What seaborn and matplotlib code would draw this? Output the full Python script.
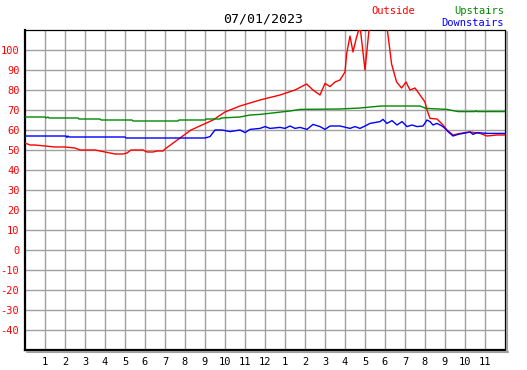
import numpy as np
import pandas as pd
import matplotlib
matplotlib.use("Agg")
import matplotlib.pyplot as plt
import seaborn as sns
from matplotlib.lines import Line2D

# ------------------------------------------------------------
# data (hour of day, temperature)
# ------------------------------------------------------------
DATE_LABEL = "07/01/2023"

outside_hours = [0, 0.25, 0.5, 1, 1.5, 2, 2.5, 2.75, 3, 3.5, 4, 4.25, 4.5, 4.9,
                 5.1, 5.3, 5.9, 6.1, 6.4, 6.6, 6.9, 7.0, 7.75, 8.3, 9.4, 10.0,
                 10.75, 11.75, 12.75, 13.5, 14.08, 14.4, 14.75, 15.0, 15.25,
                 15.5, 15.75, 16.0, 16.08, 16.25, 16.4, 16.58, 16.75, 17.0,
                 17.25, 17.75, 18.08, 18.33, 18.58, 18.83, 19.05, 19.25, 19.5,
                 19.75, 20.0, 20.1, 20.25, 20.6, 20.9, 21.1, 21.4, 21.75,
                 22.25, 22.75, 23.1, 23.6, 24.0]
outside_temps = [53.5, 52.5, 52.5, 52, 51.5, 51.5, 51, 50, 50, 50, 49, 48.5, 48,
                 48, 48.5, 50, 50, 49, 49, 49.5, 49.5, 50.5, 56, 60, 65, 69,
                 72, 75, 77.5, 80, 83, 80, 77.5, 83.3, 81.7,
                 84, 85, 89, 98, 107, 99, 106.5, 112, 90,
                 115, 118, 113, 93, 84, 81, 84, 80, 81,
                 77.5, 74, 70, 65.8, 65.5, 62.5, 60, 57.5, 58.3,
                 59, 58.3, 57, 57.5, 57.5]

upstairs_hours = [0, 1.0, 1.05, 1.15, 1.2, 2.65, 2.7, 3.75, 3.8, 5.35, 5.4,
                  7.65, 7.7, 9.0, 9.05, 9.75, 9.8, 10.75, 11.25, 11.75, 13.25,
                  13.75, 15.75, 16.75, 17.8, 19.75, 20.05, 21.1, 21.65, 22.5,
                  22.55, 22.6, 24.0]
upstairs_temps = [66.5, 66.5, 66, 66.5, 66, 66, 65.5, 65.5, 65, 65, 64.5,
                  64.5, 65, 65, 65.5, 65.5, 66, 66.5, 67.5, 67.8, 69.5,
                  70.3, 70.5, 71, 72, 72, 70.8, 70.3, 69.2, 69.2,
                  69.6, 69.2, 69.2]

downstairs_hours = [0, 2.05, 2.1, 2.15, 2.2, 5.0, 5.05, 9.0, 9.25, 9.5, 9.85,
                    10.25, 10.75, 11.0, 11.25, 11.75, 12.0, 12.25, 12.75, 13.0,
                    13.25, 13.5, 13.75, 14.1, 14.4, 14.75, 15.0, 15.25, 15.75,
                    16.25, 16.5, 16.75, 17.0, 17.25, 17.75, 17.9, 18.1, 18.35,
                    18.6, 18.85, 19.1, 19.35, 19.6, 19.9, 20.1, 20.25, 20.4,
                    20.6, 20.85, 21.0, 21.15, 21.4, 21.65, 21.9, 22.25, 22.4,
                    22.6, 23.1, 24.0]
downstairs_temps = [57, 57, 56.3, 57, 56.5, 56.5, 56, 56, 56.7, 60, 60,
                    59.2, 60, 58.7, 60.3, 60.8, 61.7, 60.8, 61.3, 60.8,
                    62, 60.8, 61.3, 60.3, 62.8, 61.7, 60.3, 62, 62,
                    60.8, 61.7, 60.8, 62, 63.3, 64.2, 65.3, 63.3, 64.7,
                    62.5, 64.2, 61.7, 62.5, 61.7, 62, 65, 64.2, 62.5,
                    63.3, 62, 60.8, 59.2, 57, 57.8, 58.3, 59, 57.8,
                    58.7, 58.3, 58.3]

hour_ticks = list(range(1, 24))
hour_labels = [str(h % 12 if h % 12 else 12) for h in hour_ticks]
temp_ticks = list(range(-40, 101, 10))

SERIES = [
    ("Outside", outside_hours, outside_temps, "#ff0000"),
    ("Upstairs", upstairs_hours, upstairs_temps, "#008800"),
    ("Downstairs", downstairs_hours, downstairs_temps, "#0000ff"),
]

# ------------------------------------------------------------
# figure
# ------------------------------------------------------------
sns.set_style("white")
plt.rcParams["font.family"] = ["DejaVu Sans Mono", "DejaVu Sans"]
plt.rcParams["font.size"] = 7.5
plt.rcParams["axes.unicode_minus"] = False

W, H = 527, 370
fig = plt.figure(figsize=(W / 100, H / 100), dpi=100)
ax = fig.add_axes([25 / W, 20 / H, 480 / W, 320 / H])

for name, hrs, temps, color in SERIES:
    df = pd.DataFrame({"hour": hrs, "temp": temps})
    sns.lineplot(data=df, x="hour", y="temp", color=color, lw=1.0,
                 ax=ax, estimator=None, sort=False, zorder=3)

ax.set_xlim(0, 24)
ax.set_ylim(-50, 110)
ax.set_xticks(hour_ticks)
ax.set_xticklabels(hour_labels)
ax.set_yticks(temp_ticks)
ax.set_xlabel("")
ax.set_ylabel("")
ax.grid(True, color="#a0a0a0", lw=1.0)
ax.set_axisbelow(True)

ax.tick_params(axis="both", direction="in", length=4, width=1, color="black")
ax.tick_params(axis="y", labelcolor="#ff0000", pad=4)
ax.tick_params(axis="x", labelcolor="black", pad=5)

for side in ["left", "bottom"]:
    ax.spines[side].set_linewidth(1.6)
for side in ["top", "right"]:
    ax.spines[side].set_linewidth(0.9)
for sp in ax.spines.values():
    sp.set_color("black")
    sp.set_visible(True)

# little grey drop shadow on the right / bottom
fig.add_artist(Line2D([507 / W, 507 / W], [(H - 352) / H, (H - 32) / H],
                      color="#a0a0a0", lw=1.5, transform=fig.transFigure))
fig.add_artist(Line2D([27 / W, 507.5 / W], [(H - 352) / H, (H - 352) / H],
                      color="#a0a0a0", lw=1.5, transform=fig.transFigure))

# header texts
fig.text(263 / W, 1 - 19 / H, DATE_LABEL, ha="center", va="center",
         fontsize=9.5, color="black")
fig.text(393 / W, 1 - 11 / H, "Outside", ha="center", va="center",
         color="#ff0000")
fig.text(504 / W, 1 - 11 / H, "Upstairs", ha="right", va="center",
         color="#008800")
fig.text(504 / W, 1 - 23 / H, "Downstairs", ha="right", va="center",
         color="#0000ff")

fig.savefig("out.png", dpi=100, facecolor="white")
